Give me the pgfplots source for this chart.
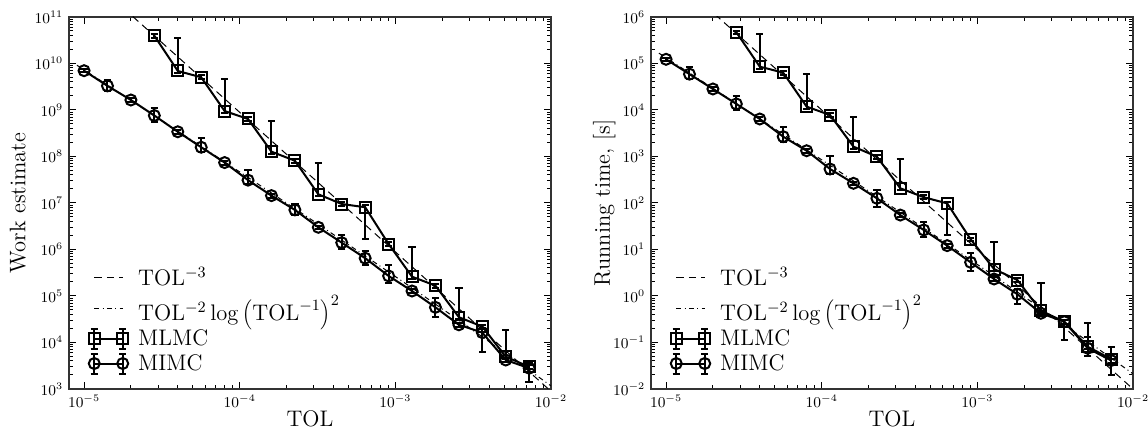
\RequirePackage{fix-cm}
\documentclass[border=0pt]{standalone}
\usepackage{pgfplots}
\pgfplotsset{compat=1.18}
\pgfplotsset{
  every axis/.append style={
    scale only axis,
    width=289.2pt, height=223.2pt,
    xmin=8e-6, xmax=1e-2,
    xtick={1e-5,1e-4,1e-3,1e-2},
    axis line style={black!80, line width=0.8pt},
    tick style={black, line width=0.6pt},
    major tick length=4pt, minor tick length=2.2pt,
    tick align=inside,
    xlabel={TOL},
    legend cell align=left,
  },
  refA/.style={black, line width=0.6pt, dash pattern=on 4.5pt off 3pt},
  refB/.style={black, line width=0.6pt, dash pattern=on 3pt off 2pt on 0.6pt off 2pt},
  myseries/.style={black, line width=1.2pt, mark=#1, mark size=3.3pt,
    mark options={solid, line width=1.2pt, fill=none},
    error bars/y dir=both, error bars/y explicit,
    error bars/error bar style={line width=1.2pt},
    error bars/error mark options={rotate=90, mark size=2.2pt, line width=1.2pt}},
  lineleg/.style={legend image code/.code={\draw[##1] (0cm,0cm) -- (0.6cm,0cm);}},
  ebleg/.style={legend image code/.code={
      \draw[##1] (0cm,0cm) -- (0.6cm,0cm);
      \draw[solid, line width=1.2pt] (0cm,-6pt) -- (0cm,6pt)
          (-2.2pt,-6pt) -- (2.2pt,-6pt) (-2.2pt,6pt) -- (2.2pt,6pt)
          (0.6cm,-6pt) -- (0.6cm,6pt)
          (0.6cm-2.2pt,-6pt) -- (0.6cm+2.2pt,-6pt) (0.6cm-2.2pt,6pt) -- (0.6cm+2.2pt,6pt);
      \draw[##1, mark repeat=1] plot coordinates {(0cm,0cm) (0.6cm,0cm)};
    }},
}
\newcommand{\lblfont}{\fontsize{13.5}{16}\selectfont}
\newcommand{\legfont}{\fontsize{13.5}{15.5}\selectfont}
\newcommand{\tckfont}{\fontsize{9}{11}\selectfont}
\begin{document}
\begin{tikzpicture}

% ---------- left: work estimate ----------
\begin{axis}[xmode=log, ymode=log,
  ymin=1e3, ymax=1e11,
  ytick={1e3,1e4,1e5,1e6,1e7,1e8,1e9,1e10,1e11},
  ylabel={Work estimate},
  xticklabel style={font=\tckfont}, yticklabel style={font=\tckfont},
  xlabel style={font=\lblfont, at={(axis description cs:0.5,-0.1)}, anchor=base},
  ylabel style={font=\lblfont, at={(axis description cs:-0.106,0.5)}, anchor=center},
  legend style={draw=none, fill=none, at={(0.03,0.025)}, anchor=south west,
    font=\legfont, row sep=0pt,
    /tikz/every odd column/.append style={column sep=4pt}}]
\addplot[refA, lineleg] coordinates {(9e-6,1.22e12) (1e-2,891)};
\addlegendentry{TOL$^{-3}$}
\addplot[refB, lineleg] coordinates {
  (9e-6,9.17e9) (1e-5,7.29e9) (2e-5,1.61e9) (4e-5,3.52e8) (8e-5,7.65e7)
  (1.6e-4,1.64e7) (3.2e-4,3.48e6) (6.4e-4,7.26e5) (1.28e-3,1.49e5)
  (2.56e-3,2.99e4) (5.12e-3,5.84e3) (1e-2,1.166e3)};
\addlegendentry{TOL$^{-2}\log\left(\mathrm{TOL}^{-1}\right)^2$}
\addplot[myseries=square, ebleg] table[y error plus=ep, y error minus=em] {
x y ep em
2.828e-5 3.96e10 4e9 4e9
4.0e-5 6.9e9 2.81e10 7e8
5.657e-5 5.05e9 5e8 5e8
8.0e-5 9.5e8 3.65e9 1e8
1.131e-4 6.4e8 6e7 6e7
1.6e-4 1.27e8 4.63e8 1.3e7
2.263e-4 8.1e7 8e6 8e6
3.2e-4 1.54e7 5.86e7 1.5e6
4.525e-4 9.5e6 9e5 9e5
6.4e-4 8.1e6 8e5 6.44e6
9.051e-4 1.31e6 1.3e5 1.3e5
1.28e-3 2.6e5 8.9e5 2.6e4
1.810e-3 1.67e5 1.7e4 1.7e4
2.56e-3 3.5e4 1.12e5 3.5e3
3.620e-3 2.2e4 2.2e3 2.2e3
5.12e-3 4.95e3 1.4e4 5e2
7.241e-3 3.0e3 3e2 3e2
};
\addlegendentry{MLMC}
\addplot[myseries=o, ebleg] table[y error plus=ep, y error minus=em] {
x y ep em
1.0e-5 7.0e9 6e8 6e8
1.414e-5 3.3e9 1.1e9 8e8
2.0e-5 1.64e9 1.5e8 1.5e8
2.828e-5 7.6e8 3.4e8 2.0e8
4.0e-5 3.4e8 4e7 4e7
5.657e-5 1.58e8 8.7e7 3e7
8.0e-5 7.4e7 7e6 7e6
1.131e-4 3.1e7 2.0e7 6e6
1.6e-4 1.44e7 1.3e6 1.3e6
2.263e-4 7.1e6 2.4e6 1.6e6
3.2e-4 3.0e6 2.7e5 2.7e5
4.525e-4 1.4e6 6e5 4e5
6.4e-4 6.5e5 2.6e5 1.8e5
9.051e-4 2.7e5 2.0e5 8e4
1.28e-3 1.28e5 1.2e4 1.2e4
1.810e-3 5.7e4 3.3e4 2.1e4
2.56e-3 2.4e4 2.2e3 2.2e3
3.620e-3 1.63e4 4e3 1.0e4
5.12e-3 4.2e3 4e2 4e2
7.241e-3 2.8e3 8e2 1.4e3
};
\addlegendentry{MIMC}
\end{axis}

% ---------- right: running time ----------
\begin{axis}[xmode=log, ymode=log, at={(349.2pt,0pt)},
  ymin=1e-2, ymax=1e6,
  ytick={1e-2,1e-1,1,1e1,1e2,1e3,1e4,1e5,1e6},
  ylabel={Running time, [s]},
  xticklabel style={font=\tckfont}, yticklabel style={font=\tckfont},
  xlabel style={font=\lblfont, at={(axis description cs:0.5,-0.1)}, anchor=base},
  ylabel style={font=\lblfont, at={(axis description cs:-0.097,0.5)}, anchor=center},
  legend style={draw=none, fill=none, at={(0.03,0.025)}, anchor=south west,
    font=\legfont, row sep=0pt,
    /tikz/every odd column/.append style={column sep=4pt}}]
\addplot[refA, lineleg] coordinates {(9e-6,1.37e7) (1e-2,0.01)};
\addlegendentry{TOL$^{-3}$}
\addplot[refB, lineleg] coordinates {
  (9e-6,1.667e5) (1e-5,1.325e5) (2e-5,2.93e4) (4e-5,6.41e3) (8e-5,1.39e3)
  (1.6e-4,298) (3.2e-4,63.2) (6.4e-4,13.2) (1.28e-3,2.71)
  (2.56e-3,0.543) (5.12e-3,0.106) (1e-2,0.0212)};
\addlegendentry{TOL$^{-2}\log\left(\mathrm{TOL}^{-1}\right)^2$}
\addplot[myseries=square, ebleg] table[y error plus=ep, y error minus=em] {
x y ep em
2.828e-5 4.7e5 4e4 4e4
4.0e-5 8.55e4 3.4e5 8e3
5.657e-5 6.35e4 6e3 6e3
8.0e-5 1.18e4 4.7e4 1.1e3
1.131e-4 7.8e3 7e2 7e2
1.6e-4 1.63e3 5.6e3 1.5e2
2.263e-4 991 90 90
3.2e-4 207 673 20
4.525e-4 133 12 12
6.4e-4 98 9 77.5
9.051e-4 16.6 1.5 1.5
1.28e-3 3.8 10.5 0.35
1.810e-3 2.2 0.2 0.2
2.56e-3 0.48 1.45 0.045
3.620e-3 0.28 0.025 0.025
5.12e-3 0.081 0.179 0.008
7.241e-3 0.044 0.035 0.024
};
\addlegendentry{MLMC}
\addplot[myseries=o, ebleg] table[y error plus=ep, y error minus=em] {
x y ep em
1.0e-5 1.23e5 1.1e4 1.1e4
1.414e-5 5.9e4 2.6e4 1.3e4
2.0e-5 2.83e4 2.5e3 2.5e3
2.828e-5 1.35e4 6.5e3 3.5e3
4.0e-5 6.4e3 6e2 6e2
5.657e-5 2.67e3 1.7e3 5.8e2
8.0e-5 1.33e3 1.2e2 1.2e2
1.131e-4 538 462 121
1.6e-4 265 24 24
2.263e-4 126 64 43
3.2e-4 55 5 5
4.525e-4 26.3 13.5 7.5
6.4e-4 12.1 1.1 1.1
9.051e-4 5.3 3.2 1.8
1.28e-3 2.32 0.2 0.2
1.810e-3 1.09 0.3 0.43
2.56e-3 0.425 0.04 0.04
3.620e-3 0.28 0.025 0.167
5.12e-3 0.075 0.054 0.025
7.241e-3 0.041 0.004 0.004
};
\addlegendentry{MIMC}
\end{axis}
\pgfresetboundingbox
\path (-41.4pt,-27.6pt) rectangle (647.4pt,233.4pt);
\end{tikzpicture}
\end{document}
